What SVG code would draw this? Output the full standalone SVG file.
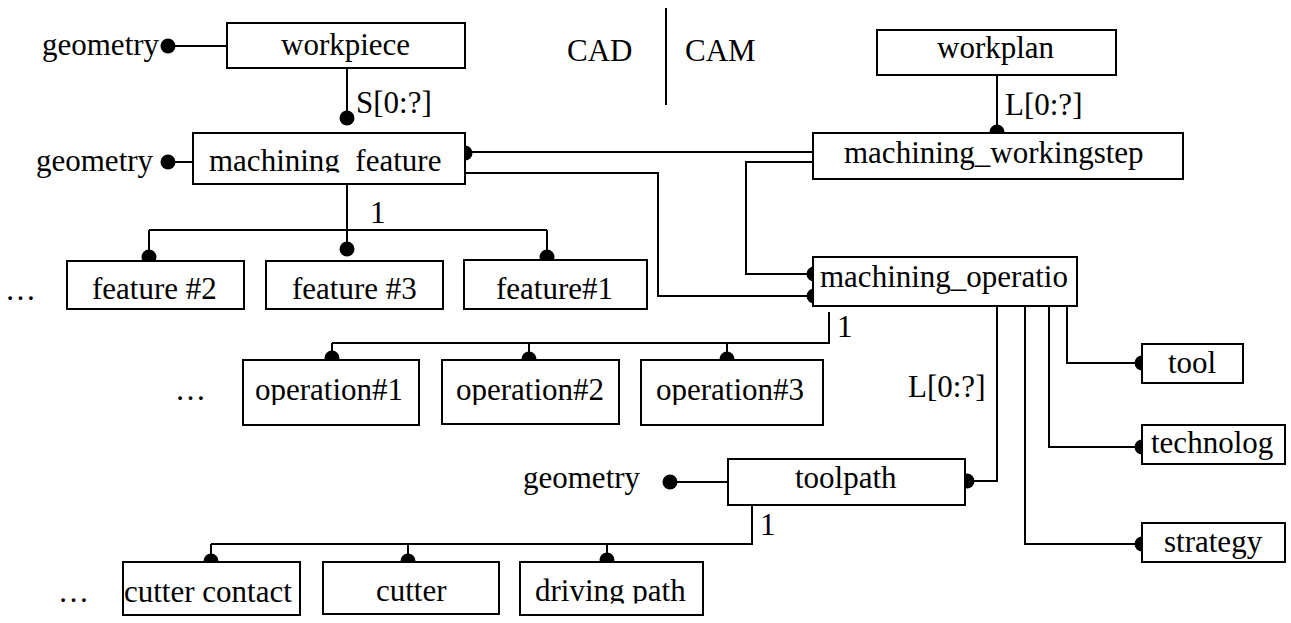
<svg xmlns="http://www.w3.org/2000/svg" width="1291" height="623" viewBox="0 0 1291 623">
  <style>
    .box { fill: #fff; stroke: #000; stroke-width: 2; }
    .wire { fill: none; stroke: #000; stroke-width: 2; }
    .dot { fill: #000; }
    text { font-family: "Liberation Serif", "Times New Roman", serif; font-size: 31px; fill: #000; }
  </style>
  <defs>
    <clipPath id="clip-mf"><rect x="193" y="133" width="272" height="39.5"/></clipPath>
    <clipPath id="clip-feat"><rect x="0" y="255" width="660" height="45"/></clipPath>
    <clipPath id="clip-op"><rect x="240" y="355" width="590" height="50"/></clipPath>
    <clipPath id="clip-leaf"><rect x="120" y="560" width="590" height="43.5"/></clipPath>
  </defs>

  <rect width="1291" height="623" fill="#fff"/>

  <!-- CAD / CAM split -->
  <g id="domain-split">
    <text x="567" y="61">CAD</text>
    <line class="wire" x1="666" y1="8" x2="666" y2="105"/>
    <text x="685" y="61">CAM</text>
  </g>

  <!-- connectors -->
  <g id="connectors">
    <path class="wire" d="M168 46 H227"/>
    <path class="wire" d="M347 68 V118"/>
    <path class="wire" d="M168 162 H193"/>
    <path class="wire" d="M465 152 H813"/>
    <path class="wire" d="M813 162 H746 V274 H814"/>
    <path class="wire" d="M465 173 H658 V296 H814"/>
    <path class="wire" d="M997 75 V132"/>
    <path class="wire" d="M347 184 V230 M149 230 H547 M149 230 V257 M347 230 V249 M547 230 V257"/>
    <path class="wire" d="M829 312 V343 H332 M332 343 V358 M529 343 V359 M727 343 V359"/>
    <path class="wire" d="M1067 306 V363 H1142"/>
    <path class="wire" d="M1049 306 V447 H1142"/>
    <path class="wire" d="M1025 306 V544 H1142"/>
    <path class="wire" d="M997 306 V481 H967"/>
    <path class="wire" d="M670 482 H728"/>
    <path class="wire" d="M752 505 V544 H211 M211 544 V561 M408 544 V561 M607 544 V560"/>

    <circle class="dot" cx="168" cy="46" r="7.5"/>
    <circle class="dot" cx="347" cy="118" r="7.5"/>
    <circle class="dot" cx="168" cy="162" r="7.5"/>
    <circle class="dot" cx="465" cy="153" r="7.5"/>
    <circle class="dot" cx="997" cy="132" r="7.5"/>
    <circle class="dot" cx="149" cy="257" r="7.5"/>
    <circle class="dot" cx="347" cy="249" r="7.5"/>
    <circle class="dot" cx="547" cy="257" r="7.5"/>
    <circle class="dot" cx="814" cy="274" r="7.5"/>
    <circle class="dot" cx="814" cy="296" r="7.5"/>
    <circle class="dot" cx="332" cy="358" r="7.5"/>
    <circle class="dot" cx="529" cy="359" r="7.5"/>
    <circle class="dot" cx="727" cy="359" r="7.5"/>
    <circle class="dot" cx="1142" cy="363" r="7.5"/>
    <circle class="dot" cx="1142" cy="447" r="7.5"/>
    <circle class="dot" cx="1142" cy="544" r="7.5"/>
    <circle class="dot" cx="967" cy="481" r="7.5"/>
    <circle class="dot" cx="670" cy="482" r="7.5"/>
    <circle class="dot" cx="211" cy="561" r="7.5"/>
    <circle class="dot" cx="408" cy="561" r="7.5"/>
    <circle class="dot" cx="607" cy="560" r="7.5"/>

    <text x="356" y="113">S[0:?]</text>
    <text x="1005" y="115">L[0:?]</text>
    <text x="370" y="223">1</text>
    <text x="837" y="337">1</text>
    <text x="908" y="397">L[0:?]</text>
    <text x="760" y="535">1</text>
  </g>

  <!-- geometry attributes and continuation marks -->
  <g id="geometry-workpiece"><text x="42" y="55">geometry</text></g>
  <g id="geometry-feature"><text x="36" y="171">geometry</text></g>
  <g id="geometry-toolpath"><text x="523" y="488">geometry</text></g>
  <g id="more-features"><text x="5" y="300">…</text></g>
  <g id="more-operations"><text x="175" y="400">…</text></g>
  <g id="more-toolpath"><text x="58" y="602">…</text></g>

  <!-- CAD side -->
  <g id="workpiece">
    <rect class="box" x="227" y="23" width="238" height="45"/>
    <text x="281" y="55">workpiece</text>
  </g>
  <g id="machining-feature">
    <rect class="box" x="193" y="133" width="272" height="51"/>
    <text x="209" y="171" clip-path="url(#clip-mf)">machining_feature</text>
  </g>
  <g id="feature-2">
    <rect class="box" x="67" y="261" width="177" height="48"/>
    <text x="92" y="299" clip-path="url(#clip-feat)">feature #2</text>
  </g>
  <g id="feature-3">
    <rect class="box" x="266" y="261" width="177" height="48"/>
    <text x="292" y="299" clip-path="url(#clip-feat)">feature #3</text>
  </g>
  <g id="feature-1">
    <rect class="box" x="464" y="260" width="183" height="49"/>
    <text x="496" y="299" clip-path="url(#clip-feat)">feature#1</text>
  </g>

  <!-- CAM side -->
  <g id="workplan">
    <rect class="box" x="877" y="30" width="239" height="45"/>
    <text x="937" y="58">workplan</text>
  </g>
  <g id="machining-workingstep">
    <rect class="box" x="813" y="133" width="370" height="46"/>
    <text x="844" y="163">machining_workingstep</text>
  </g>
  <g id="machining-operation">
    <rect class="box" x="813" y="257" width="264" height="49"/>
    <text x="820" y="287">machining_operatio</text>
  </g>
  <g id="operation-1">
    <rect class="box" x="243" y="360" width="176" height="65"/>
    <text x="255" y="400" clip-path="url(#clip-op)">operation#1</text>
  </g>
  <g id="operation-2">
    <rect class="box" x="442" y="360" width="177" height="64"/>
    <text x="456" y="400" clip-path="url(#clip-op)">operation#2</text>
  </g>
  <g id="operation-3">
    <rect class="box" x="641" y="360" width="182" height="65"/>
    <text x="656" y="400" clip-path="url(#clip-op)">operation#3</text>
  </g>
  <g id="tool">
    <rect class="box" x="1142" y="344" width="101" height="39"/>
    <text x="1168" y="373">tool</text>
  </g>
  <g id="technology">
    <rect class="box" x="1142" y="425" width="143" height="39"/>
    <text x="1151" y="453">technolog</text>
  </g>
  <g id="strategy">
    <rect class="box" x="1142" y="523" width="143" height="39"/>
    <text x="1164" y="552">strategy</text>
  </g>
  <g id="toolpath">
    <rect class="box" x="728" y="459" width="237" height="46"/>
    <text x="795" y="488">toolpath</text>
  </g>
  <g id="cutter-contact">
    <rect class="box" x="123" y="562" width="177" height="53"/>
    <text x="124" y="602" clip-path="url(#clip-leaf)">cutter contact</text>
  </g>
  <g id="cutter">
    <rect class="box" x="323" y="562" width="176" height="52"/>
    <text x="376" y="601" clip-path="url(#clip-leaf)">cutter</text>
  </g>
  <g id="driving-path">
    <rect class="box" x="520" y="562" width="183" height="53"/>
    <text x="535" y="601" clip-path="url(#clip-leaf)">driving path</text>
  </g>
</svg>
